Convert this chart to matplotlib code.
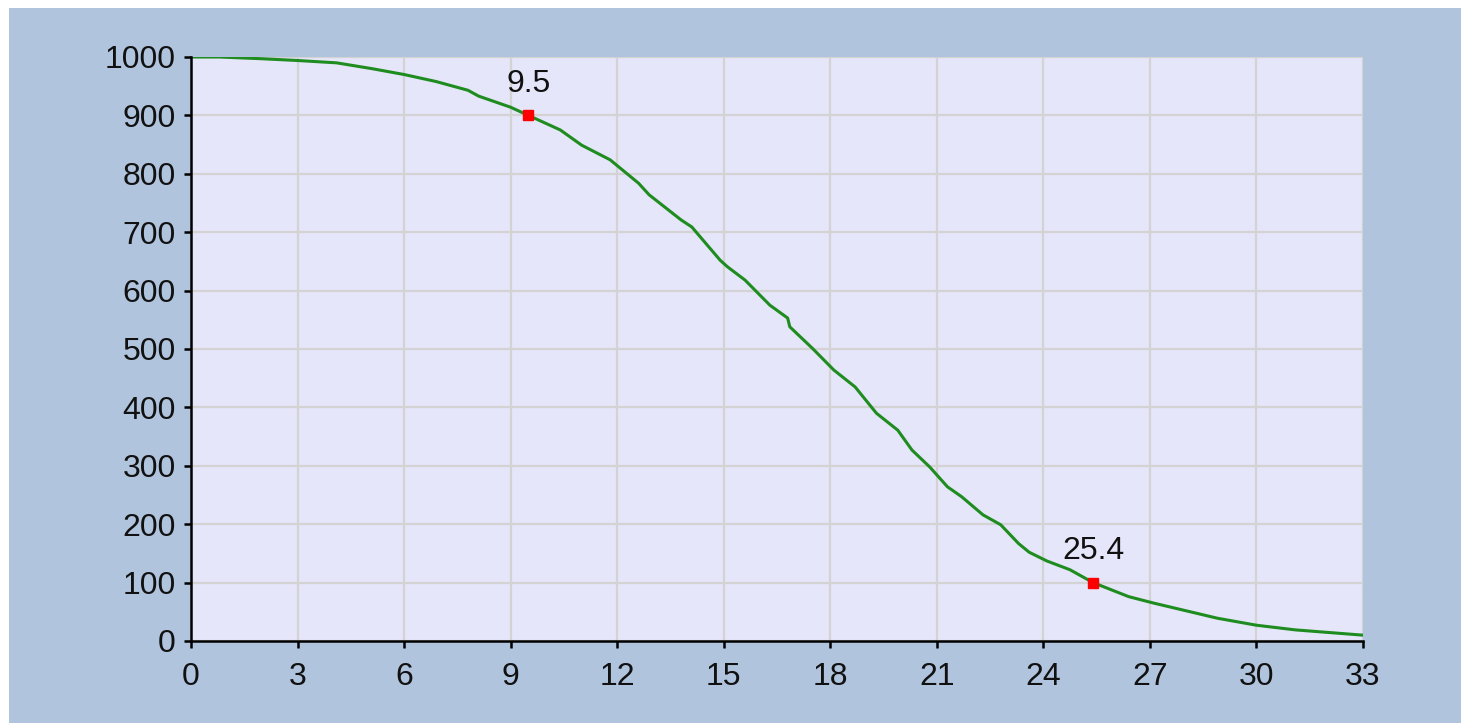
import matplotlib
matplotlib.use("Agg")
import matplotlib.pyplot as plt
from matplotlib.patches import Rectangle

# curve values
dias = [0, 0.8, 2.0, 3.0, 4.1, 5.1, 6.0, 6.9, 7.8, 8.1, 9.0, 9.5, 10.4, 11.0, 11.8,
        12.1, 12.6, 12.9, 13.8, 14.1, 14.9, 15.1, 15.6, 16.3, 16.8, 16.86, 17.5, 18.1,
        18.7, 19.3, 19.9, 20.3, 20.8, 21.3, 21.7, 22.3, 22.8, 23.3, 23.6, 24.1, 24.75,
        25.4, 26.4, 27.1, 28.9, 30.0, 31.1, 33.0]
valores = [1000, 1000, 997, 994, 990, 980, 970, 958, 943, 933, 914, 900, 875, 849, 824,
           809, 784, 764, 721, 709, 652, 641, 618, 575, 553, 538, 501, 464,
           435, 390, 361, 327, 298, 264, 247, 216, 199, 167, 152, 137, 122,
           100, 76, 65, 39, 27, 19, 10]

# pontos destacados
marcas_x = [9.5, 25.4]
marcas_y = [900, 100]
marcas_txt = ["9.5", "25.4"]

x_ticks = list(range(0, 34, 3))
y_ticks = list(range(0, 1001, 100))

plt.rcParams['font.family'] = ['Liberation Sans', 'DejaVu Sans']

fig = plt.figure(figsize=(14.61, 7.23), dpi=100, facecolor='#B0C4DE')
# faixas brancas em cima e na esquerda
fig.patches.append(Rectangle((0, 1 - 8 / 723), 1, 8 / 723, transform=fig.transFigure,
                             facecolor='white', edgecolor='none', zorder=-10))
fig.patches.append(Rectangle((0, 0), 9 / 1461, 1, transform=fig.transFigure,
                             facecolor='white', edgecolor='none', zorder=-10))

ax = fig.add_axes([191 / 1461, 1 - 641 / 723, (1363 - 191) / 1461, (641 - 57) / 723])
ax.set_zorder(2)
ax.set_facecolor('#E6E6FA')

ax.plot(dias, valores, color='#1E8C1E', lw=2.2, zorder=3)
ax.plot(marcas_x, marcas_y, 's', color='red', markersize=7.5, zorder=4)
for mx, my, t in zip(marcas_x, marcas_y, marcas_txt):
    ax.annotate(t, (mx, my), xytext=(0, 12), textcoords='offset points',
                ha='center', va='bottom', fontsize=23, color='#111111')

ax.set_xlim(0, 33)
ax.set_ylim(0, 1000)
ax.set_xticks(x_ticks)
ax.set_yticks(y_ticks)
ax.grid(True, color='#D3D3D3', lw=1.6, zorder=1)
ax.set_axisbelow(True)

for s in ['top', 'right']:
    ax.spines[s].set_visible(False)
for s in ['left', 'bottom']:
    ax.spines[s].set_color('black')
    ax.spines[s].set_linewidth(1.8)
    ax.spines[s].set_zorder(5)

ax.tick_params(axis='both', length=5, width=1.8, color='black', labelsize=23, labelcolor='#111111')
ax.tick_params(axis='x', pad=10)
ax.tick_params(axis='y', pad=6)

fig.savefig("out.png", dpi=100, facecolor=fig.get_facecolor())
